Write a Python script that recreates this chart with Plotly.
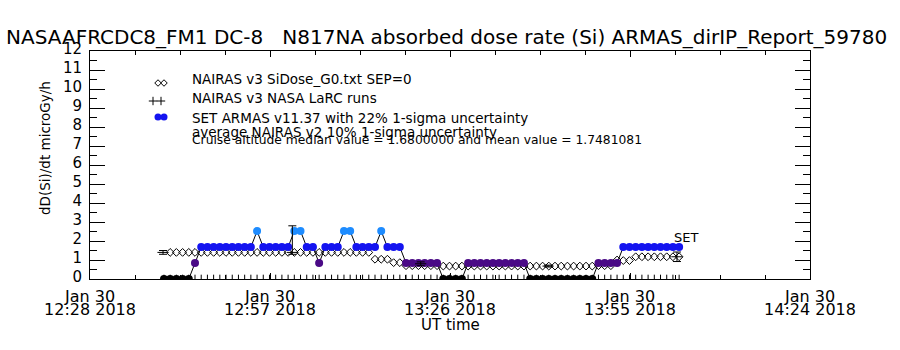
import plotly.graph_objects as go
import pandas as pd

# ---------------- data ----------------
TITLE = "NASAAFRCDC8_FM1 DC-8   N817NA absorbed dose rate (Si) ARMAS_dirIP_Report_59780"
Y_TITLE = "dD(Si)/dt microGy/h"
X_TITLE = "UT time"

x_range = ["2018-01-30 12:28:00", "2018-01-30 14:24:00"]
x_tickvals = ["2018-01-30 12:28:00", "2018-01-30 12:57:00", "2018-01-30 13:26:00",
              "2018-01-30 13:55:00", "2018-01-30 14:24:00"]
x_ticktext_day = ["Jan 30"] * 5
x_ticktext_time = ["12:28 2018", "12:57 2018", "13:26 2018", "13:55 2018", "14:24 2018"]
y_tickvals = list(range(0, 13))

# SET ARMAS dose rate, one value per minute starting 12:39:55
armas_start = "2018-01-30 12:39:55"
armas_dose = [0, 0, 0, 0, 0,
              0.84,
              1.68, 1.68, 1.68, 1.68, 1.68, 1.68, 1.68, 1.68, 1.68,
              2.52,
              1.68, 1.68, 1.68, 1.68, 1.68,
              2.52, 2.52,
              1.68, 1.68,
              0.84,
              1.68, 1.68, 1.68,
              2.52, 2.52,
              1.68, 1.68, 1.68, 1.68,
              2.52,
              1.68, 1.68, 1.68,
              0.84, 0.84, 0.84, 0.84, 0.84, 0.84,
              0, 0, 0, 0,
              0.84, 0.84, 0.84, 0.84, 0.84, 0.84, 0.84, 0.84, 0.84, 0.84,
              0, 0, 0, 0, 0, 0, 0, 0, 0, 0, 0,
              0.84, 0.84, 0.84, 0.84,
              1.68, 1.68, 1.68, 1.68, 1.68, 1.68, 1.68, 1.68, 1.68, 1.68]

# NAIRAS v3 SiDose_G0, one value per minute starting 12:40:55
nairas_start = "2018-01-30 12:40:55"
nairas_dose = [
    1.4, 1.4, 1.4, 1.4, 1.4, 1.4, 1.4, 1.4, 1.4, 1.4, 1.4,
    1.4, 1.4, 1.4, 1.4, 1.4, 1.4, 1.4, 1.4, 1.4, 1.4, 1.4,
    1.4, 1.4, 1.4, 1.4, 1.4, 1.4, 1.4, 1.4, 1.4, 1.4, 1.4,
    1.04, 1.04, 1.04,
    0.86, 0.86,
    0.7, 0.7, 0.7, 0.7, 0.7, 0.7,
    0.68, 0.68, 0.68, 0.68,
    0.68, 0.68, 0.68, 0.68, 0.68, 0.68, 0.68, 0.68, 0.68, 0.68,
    0.68, 0.68, 0.68, 0.68, 0.68, 0.68, 0.68, 0.68, 0.68, 0.68, 0.68,
    0.7, 0.7, 0.7,
    1.0, 0.97, 0.97,
    1.17, 1.17, 1.17, 1.17, 1.17, 1.17, 1.17, 1.17]

# NAIRAS v3 NASA LaRC runs
larc_time = ["2018-01-30 12:39:46", "2018-01-30 13:00:36", "2018-01-30 13:21:17",
             "2018-01-30 13:41:48", "2018-01-30 14:02:34"]
larc_dose = [1.4, 1.4, 0.8, 0.68, 1.17]
larc_err_plus = [0.1, 1.4, 0.1, 0.05, 0.25]
larc_err_minus = [0.1, 0.1, 0.1, 0.05, 0.25]

legend_lines = ["NAIRAS v3 SiDose_G0.txt SEP=0",
                "NAIRAS v3 NASA LaRC runs",
                "SET ARMAS v11.37 with 22% 1-sigma uncertainty",
                "average NAIRAS v2 10% 1-sigma uncertainty"]
cruise_median = 1.6800000
cruise_mean = 1.7481081
set_label = "SET"

# ---------------- styles ----------------
FONT = "DejaVu Sans"
DOSE_COLORS = {0: "#000000", 0.84: "#4a0a86", 1.68: "#1414f0", 2.52: "#1e8cff"}

armas_time = pd.date_range(armas_start, periods=len(armas_dose), freq="60s")
nairas_time = pd.date_range(nairas_start, periods=len(nairas_dose), freq="60s")
armas_colors = [DOSE_COLORS[v] for v in armas_dose]

L, R, T, B, W, H = 90, 90, 51, 71, 900, 350


def px(x):
    return (x - L) / (W - L - R)


def py(y):
    return (H - B - y) / (H - T - B)


fig = go.Figure()

# rug ticks along the bottom axis at every ARMAS record
fig.add_trace(go.Scatter(x=armas_time, y=[0.08] * len(armas_time), mode="markers",
                         marker=dict(symbol="line-ns", size=4, line=dict(color="black", width=1)),
                         hoverinfo="skip", showlegend=False))

# NAIRAS G0 diamonds
fig.add_trace(go.Scatter(x=nairas_time, y=nairas_dose, mode="markers",
                         marker=dict(symbol="diamond-open", size=6, color="black",
                                     line=dict(color="black", width=1)),
                         showlegend=False))

# ARMAS line + colored points
fig.add_trace(go.Scatter(x=armas_time, y=armas_dose, mode="lines+markers",
                         line=dict(color="black", width=1),
                         marker=dict(symbol="circle", size=8, color=armas_colors,
                                     line=dict(width=0)),
                         showlegend=False))

# LaRC runs with error bars
fig.add_trace(go.Scatter(x=larc_time, y=larc_dose, mode="markers",
                         marker=dict(symbol="line-ew", size=8, line=dict(color="black", width=1)),
                         error_y=dict(type="data", symmetric=False, array=larc_err_plus,
                                      arrayminus=larc_err_minus, color="black",
                                      thickness=1, width=4),
                         showlegend=False))

# legend swatches (pixel overlay axes)
fig.add_trace(go.Scatter(x=[158, 164], y=[83, 83], mode="markers", xaxis="x3", yaxis="y3",
                         marker=dict(symbol="diamond-open", size=5, color="black",
                                     line=dict(color="black", width=1)),
                         hoverinfo="skip", showlegend=False))
fig.add_trace(go.Scatter(x=[153, 161], y=[101, 101], mode="markers", xaxis="x3", yaxis="y3",
                         marker=dict(symbol="cross-thin", size=6, line=dict(color="black", width=1)),
                         hoverinfo="skip", showlegend=False))
fig.add_trace(go.Scatter(x=[158, 164], y=[117, 117], mode="markers", xaxis="x3", yaxis="y3",
                         marker=dict(symbol="circle", size=7, color=DOSE_COLORS[1.68]),
                         hoverinfo="skip", showlegend=False))
# dummy trace for the second x tick-label row
fig.add_trace(go.Scatter(x=[x_range[0]], y=[None], xaxis="x2", showlegend=False, hoverinfo="skip"))

ann = []
ann.append(dict(text=TITLE, xref="paper", yref="paper", x=px(4), y=py(37),
                xanchor="left", yanchor="middle", showarrow=False,
                font=dict(size=20, color="black", family=FONT)))
ann.append(dict(text=Y_TITLE, xref="paper", yref="paper", x=px(45), y=py(148),
                xanchor="center", yanchor="middle", textangle=-90, showarrow=False,
                font=dict(size=13.5, color="black", family=FONT)))
ann.append(dict(text=X_TITLE, xref="paper", yref="paper", x=px(450), y=py(325),
                xanchor="center", yanchor="middle", showarrow=False,
                font=dict(size=15, color="black", family=FONT)))
for txt, yy in zip(legend_lines, [79, 98, 118, 132]):
    ann.append(dict(text=txt, xref="paper", yref="paper", x=px(190), y=py(yy),
                    xanchor="left", yanchor="middle", showarrow=False,
                    font=dict(size=13.5, color="black", family=FONT)))
ann.append(dict(text=f"Cruise altitude median value = {cruise_median:.7f} and mean value = {cruise_mean:.7f}",
                xref="paper", yref="paper", x=px(190), y=py(140),
                xanchor="left", yanchor="middle", showarrow=False,
                font=dict(size=12.3, color="black", family=FONT)))
ann.append(dict(text=set_label, xref="x", yref="y", x=larc_time[-1], y=2.2,
                xanchor="left", yanchor="middle", xshift=-5, showarrow=False,
                font=dict(size=13, color="black", family=FONT)))

fig.update_layout(
    width=W, height=H, margin=dict(l=L, r=R, t=T, b=B, pad=0),
    paper_bgcolor="white", plot_bgcolor="white",
    font=dict(family=FONT, color="black"),
    annotations=ann,
    xaxis=dict(type="date", range=x_range, tickmode="array", tickvals=x_tickvals,
               ticktext=x_ticktext_day, ticks="inside", ticklen=6, tickcolor="black",
               showline=True, linecolor="black", linewidth=1, mirror="ticks",
               showgrid=False, zeroline=False, tickfont=dict(size=16),
               ticklabelstandoff=3,
               minor=dict(ticks="inside", ticklen=4, dtick=435000, tick0=x_range[0],
                          tickcolor="black", showgrid=False)),
    xaxis2=dict(type="date", range=x_range, overlaying="x", side="bottom", anchor="y",
                tickmode="array", tickvals=x_tickvals, ticktext=x_ticktext_time,
                ticks="", showline=False, showgrid=False, zeroline=False,
                tickfont=dict(size=16), ticklabelstandoff=19),
    yaxis=dict(range=[0, 12], tickmode="array", tickvals=y_tickvals,
               ticks="inside", ticklen=15, tickcolor="black",
               showline=True, linecolor="black", linewidth=1, mirror="ticks",
               showgrid=False, zeroline=False, tickfont=dict(size=15),
               ticklabelstandoff=4, ticklabelshift=-2,
               minor=dict(ticks="inside", ticklen=7, dtick=0.5, tickcolor="black", showgrid=False)),
    xaxis3=dict(range=[L, W - R], overlaying="x", visible=False, anchor="y3"),
    yaxis3=dict(range=[H - B, T], overlaying="y", visible=False, anchor="x3"),
)

fig.write_html("out.html")
